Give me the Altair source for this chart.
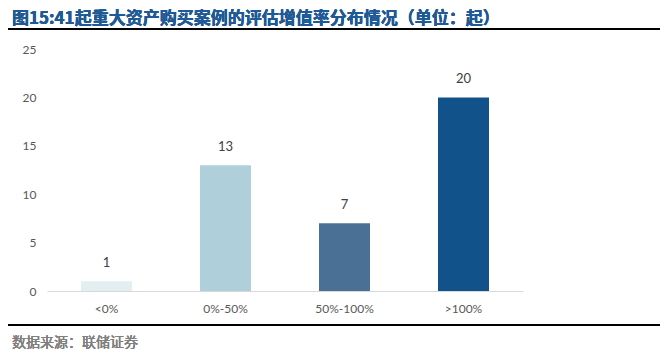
import altair as alt
import pandas as pd

categories = ["<0%", "0%-50%", "50%-100%", ">100%"]
counts = [1, 13, 7, 20]
colors = ["#E2EEF0", "#AFCFDA", "#4A7096", "#12528A"]
title_text = "图15:41起重大资产购买案例的评估增值率分布情况（单位：起）"
source_text = "数据来源：联储证券"

df = pd.DataFrame({"cat": categories, "n": counts, "color": colors})

W, H = 476, 242
PL, PT, PR, PB = 39, 41, 137, 61

yscale = alt.Scale(domain=[0, 25], nice=False)

x = alt.X("cat:N", sort=categories, scale=alt.Scale(paddingInner=0.57, paddingOuter=0.285),
          axis=alt.Axis(title=None, labelAngle=0, domainColor="#D9D9D9", domainWidth=1.2,
                        ticks=False, labelPadding=12, labelFont="Lato", labelFontSize=12,
                        labelColor="#595959"))
y = alt.Y("n:Q", scale=yscale,
          axis=alt.Axis(title=None, values=[0, 5, 10, 15, 20, 25], grid=False, domain=False,
                        ticks=False, labelPadding=11, labelFont="Lato", labelFontSize=12,
                        labelColor="#595959"))

base = alt.Chart(df)
bars = base.mark_bar(size=51).encode(x=x, y=y, color=alt.Color("color:N", scale=None))
labels = base.mark_text(dy=-18, font="Lato", fontSize=13, color="#404040").encode(
    x=alt.X("cat:N", sort=categories), y=alt.Y("n:Q", scale=yscale), text="n:Q")

top_line = alt.Chart(df).mark_rule(color="#000000", strokeWidth=2.2).encode(
    x=alt.value(-PL), x2=alt.value(W + PR), y=alt.value(-20))
bottom_line = alt.Chart(df).mark_rule(color="#000000", strokeWidth=2.2).encode(
    x=alt.value(-PL), x2=alt.value(W + PR), y=alt.value(H + 34))
title = alt.Chart(df).mark_text(align="left", baseline="middle", font="Noto Sans CJK SC",
                                fontWeight="bold", fontSize=17, color="#1F5A96").encode(
    x=alt.value(-35), y=alt.value(-PT + 11), text=alt.value(title_text))
source = alt.Chart(df).mark_text(align="left", baseline="middle", font="Noto Sans CJK SC",
                                 fontWeight="normal", fontSize=14, color="#7F7F7F").encode(
    x=alt.value(-35), y=alt.value(H + 52), text=alt.value(source_text))

chart = alt.layer(bars, labels, top_line, bottom_line, title, source).properties(
    width=W, height=H,
    autosize=alt.AutoSizeParams(type="none"),
    padding={"left": PL, "top": PT, "right": PR, "bottom": PB},
    background="white",
).configure_view(stroke=None)

chart.save("out.html", embed_options={"renderer": "svg", "actions": False})
